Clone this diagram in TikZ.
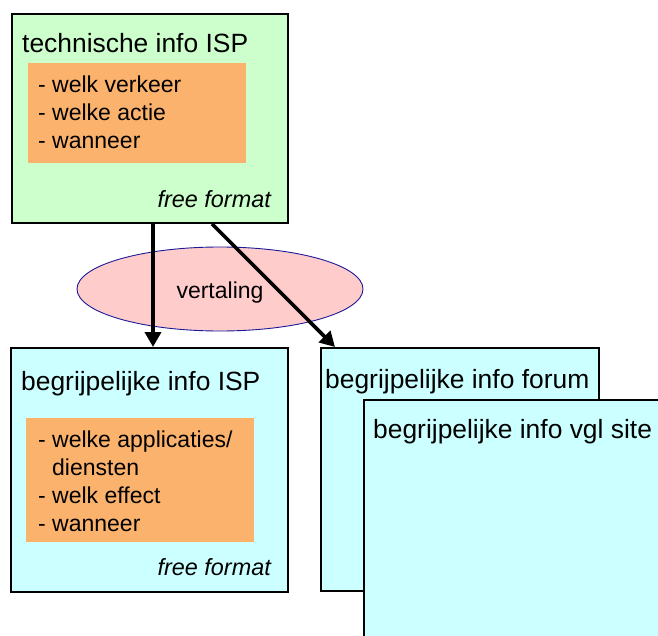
\documentclass[tikz,border=0pt]{standalone}
\usepackage{fontspec}
\setmainfont{Liberation Sans}
\usetikzlibrary{arrows.meta}
\definecolor{boxgreen}{HTML}{CCFFCC}
\definecolor{boxcyan}{HTML}{CCFFFF}
\definecolor{boxorange}{HTML}{FBB26C}
\definecolor{ellpink}{HTML}{FFCCCC}
\definecolor{ellblue}{HTML}{1A1A99}
\begin{document}
\begin{tikzpicture}[x=1pt,y=-1pt,
  box/.style={draw=black,line width=1.8pt,rectangle,anchor=north west,inner sep=0pt},
  inner/.style={rectangle,fill=boxorange,anchor=north west,inner sep=0pt},
  ttl/.style={anchor=base west,inner sep=0pt,font=\fontsize{26.4}{30}\selectfont},
  txt/.style={anchor=base west,inner sep=0pt,font=\fontsize{23}{28}\selectfont},
  ff/.style={anchor=base east,inner sep=0pt,font=\fontsize{23.4}{28}\selectfont\itshape},
  arr/.style={line width=3.6pt,-{Triangle[length=15pt,width=16pt]}}]
\clip (0,0) rectangle (658,636);
\useasboundingbox (0,0) rectangle (658,636);
% top green box
\node[box,fill=boxgreen,minimum width=276pt,minimum height=209pt] (tech) at (11,13) {};
\node[inner,minimum width=218pt,minimum height=100pt] (tlist) at (28,63) {};
\node[ttl] (ttech) at (22,53) {technische info ISP};
\node[txt] (t1) at (38,93) {- welk verkeer};
\node[txt] (t2) at (38,121) {- welke actie};
\node[txt] (t3) at (38,149) {- wanneer};
\node[ff] (tff) at (271,208) {free format};
% ellipse
\draw[ellblue,fill=ellpink,line width=0.9pt] (220,289) ellipse [x radius=143, y radius=42];
\node[txt,anchor=base] (vert) at (220,298) {vertaling};
% bottom left box
\node[box,fill=boxcyan,minimum width=277pt,minimum height=244pt] (isp) at (10,347) {};
\node[inner,minimum width=228pt,minimum height=124pt] (blist) at (26,418) {};
\node[ttl] (tisp) at (21,390) {begrijpelijke info ISP};
\node[txt] (b1) at (38,447) {- welke applicaties/};
\node[txt] (b2) at (52,475) {diensten};
\node[txt] (b3) at (38,503) {- welk effect};
\node[txt] (b4) at (38,531) {- wanneer};
\node[ff] (bff) at (271,575) {free format};
% forum box
\node[box,fill=boxcyan,minimum width=278pt,minimum height=243pt] (forum) at (320,347) {};
\node[ttl] (tforum) at (325,388) {begrijpelijke info forum};
% vgl site box
\node[box,fill=boxcyan,minimum width=320pt,minimum height=260pt] (vgl) at (363,399) {};
\node[ttl] (tvgl) at (373,438) {begrijpelijke info vgl site};
% arrows
\draw[arr] ([xshift=142pt]tech.south west) -- ([xshift=143pt]isp.north west);
\draw[arr] ([xshift=201pt]tech.south west) -- ([xshift=15pt]forum.north west);
\end{tikzpicture}
\end{document}
